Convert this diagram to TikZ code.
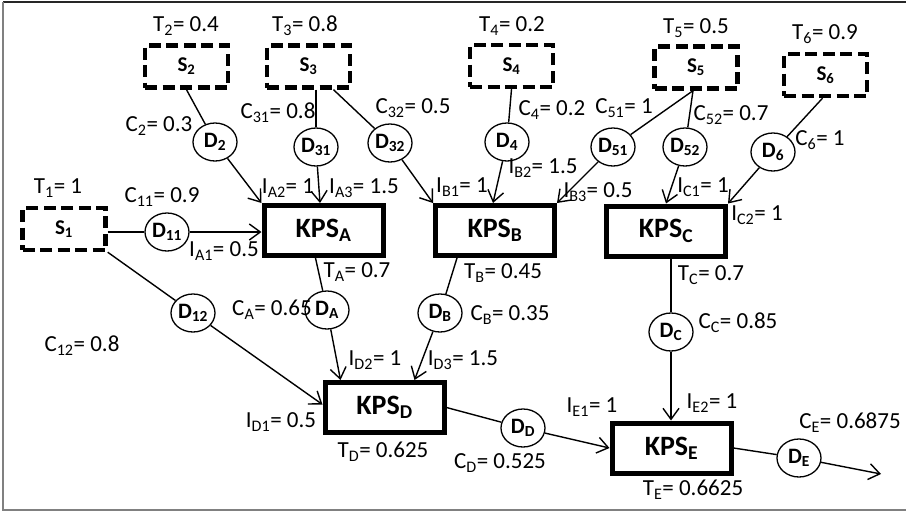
\documentclass[tikz,border=0pt]{standalone}
\usepackage{fontspec}
\setmainfont{Carlito}
\usetikzlibrary{shapes.geometric,arrows.meta}
\tikzset{
  srcbox/.style={draw, line width=4.4pt, dash pattern=on 12pt off 5.5pt, minimum width=83pt, minimum height=42pt, inner sep=0pt, font=\fontsize{21}{21}\selectfont\bfseries},
  kpsbox/.style={draw, line width=5pt, minimum width=119pt, minimum height=50pt, inner sep=0pt, font=\fontsize{28}{28}\selectfont\bfseries},
  dnode/.style={ellipse, draw, line width=1.3pt, minimum width=44pt, minimum height=38pt, inner sep=0pt, fill=white, font=\fontsize{22}{22}\selectfont\bfseries},
  lbl/.style={inner sep=0pt, font=\fontsize{23}{23}\selectfont},
  conn/.style={line width=1.4pt},
  arr/.style={conn, -{Straight Barb[length=11pt,width=16pt,line width=1.4pt]}}
}
\newcommand{\sbs}[1]{\textsubscript{#1}}
\begin{document}
\begin{tikzpicture}[x=1pt,y=-1pt]
\useasboundingbox (0,0) rectangle (906,512);
% frame
\draw[line width=1.2pt, black!85] (3,2) -- (906,2);
\draw[line width=1.6pt, black!50] (3,2) -- (3,510) -- (906,510);

% sources
\node[srcbox] (S1) at (64,229) {S\sbs{1}};
\node[srcbox] (S2) at (186.5,66.5) {S\sbs{2}};
\node[srcbox] (S3) at (308.5,66.5) {S\sbs{3}};
\node[srcbox] (S4) at (511.5,66) {S\sbs{4}};
\node[srcbox] (S5) at (696,67.5) {S\sbs{5}};
\node[srcbox] (S6) at (825.5,75) {S\sbs{6}};

% KPS boxes
\node[kpsbox] (KPSA) at (323.5,230.5) {KPS\sbs{A}};
\node[kpsbox] (KPSB) at (495,230.5) {KPS\sbs{B}};
\node[kpsbox] (KPSC) at (666,231) {KPS\sbs{C}};
\node[kpsbox] (KPSD) at (384.5,407.5) {KPS\sbs{D}};
\node[kpsbox] (KPSE) at (671.5,448) {KPS\sbs{E}};

% D nodes
\node[dnode] (D2) at (215,142) {D\sbs{2}};
\node[dnode] (D31) at (316,147) {D\sbs{31}};
\node[dnode] (D32) at (390,143) {D\sbs{32}};
\node[dnode] (D4) at (507,142) {D\sbs{4}};
\node[dnode] (D51) at (613,147) {D\sbs{51}};
\node[dnode] (D52) at (685,147) {D\sbs{52}};
\node[dnode] (D6) at (773,152) {D\sbs{6}};
\node[dnode] (D11) at (167,232) {D\sbs{11}};
\node[dnode] (D12) at (193,313) {D\sbs{12}};
\node[dnode] (DA) at (327,310) {D\sbs{A}};
\node[dnode] (DB) at (440,313) {D\sbs{B}};
\node[dnode] (DC) at (671,332) {D\sbs{C}};
\node[dnode] (DD) at (523,428) {D\sbs{D}};
\node[dnode] (DE) at (799,458) {D\sbs{E}};
\coordinate (OUT) at (881,474);

% connectors
\draw[conn] (S2.south) -- (D2);
\draw[arr] (D2) -- (KPSA.north west);
\draw[conn] (S3.south -| D31) -- (D31);
\draw[arr] (D31) -- ([xshift=-3.5pt]KPSA.north);
\draw[conn] ([xshift=25pt]S3.south) -- (D32);
\draw[arr] (D32) -- (KPSB.north west);
\draw[conn] (S4.south) -- (D4);
\draw[arr] (D4) -- ([xshift=-2pt]KPSB.north);
\draw[conn] ([xshift=-3pt]S5.south) -- (D51);
\draw[arr] (D51) -- (KPSB.north east);
\draw[conn] ([xshift=-3pt]S5.south) -- (D52);
\draw[arr] (D52) -- (KPSC.north);
\draw[conn] ([xshift=-3pt]S6.south) -- (D6);
\draw[arr] (D6) -- (KPSC.north east);
\draw[conn] (S1.east |- D11) -- (D11);
\draw[arr] (D11) -- (KPSA.west |- D11);
\draw[conn] (S1.south east) -- (D12);
\draw[arr] (D12) -- ([yshift=3pt]KPSD.west);
\draw[conn] ([xshift=-8pt]KPSA.south) -- (DA);
\draw[arr] (DA) -- ([xshift=-44pt]KPSD.north);
\draw[conn] ([xshift=-38pt]KPSB.south) -- (DB);
\draw[arr] (DB) -- ([xshift=30pt]KPSD.north);
\draw[conn] (KPSC.south -| DC) -- (DC);
\draw[arr] (DC) -- (KPSE.north -| DC);
\draw[conn] (KPSD.east) -- (DD);
\draw[arr] (DD) -- (KPSE.west);
\draw[conn] (KPSE.east) -- (DE);
\draw[arr] (DE) -- (OUT);

% labels
\node[lbl] (lT1) at (58,188) {T\sbs{1}= 1};
\node[lbl] (lT2) at (186,26) {T\sbs{2}= 0.4};
\node[lbl] (lT3) at (305,26) {T\sbs{3}= 0.8};
\node[lbl] (lT4) at (512,26) {T\sbs{4}= 0.2};
\node[lbl] (lT5) at (696,28) {T\sbs{5}= 0.5};
\node[lbl] (lT6) at (825,34) {T\sbs{6}= 0.9};
\node[lbl] (lC2) at (159,126) {C\sbs{2}= 0.3};
\node[lbl] (lC31) at (278,113) {C\sbs{31}= 0.8};
\node[lbl] (lC32) at (413,108) {C\sbs{32}= 0.5};
\node[lbl] (lC4) at (552,110) {C\sbs{4}= 0.2};
\node[lbl] (lC51) at (624,108) {C\sbs{51}= 1};
\node[lbl] (lC52) at (731,115) {C\sbs{52}= 0.7};
\node[lbl] (lC6) at (820,140) {C\sbs{6}= 1};
\node[lbl] (lC11) at (162,197) {C\sbs{11}= 0.9};
\node[lbl] (lIA1) at (224,251) {I\sbs{A1}= 0.5};
\node[lbl] (lIA2) at (288,188) {I\sbs{A2}= 1};
\node[lbl] (lIA3) at (364,188) {I\sbs{A3}= 1.5};
\node[lbl] (lIB1) at (462,187) {I\sbs{B1}= 1};
\node[lbl] (lIB2) at (543,168) {I\sbs{B2}= 1.5};
\node[lbl] (lIB3) at (598,192) {I\sbs{B3}= 0.5};
\node[lbl] (lIC1) at (703,187) {I\sbs{C1}= 1};
\node[lbl] (lIC2) at (757,215) {I\sbs{C2}= 1};
\node[lbl] (lTA) at (357,272) {T\sbs{A}= 0.7};
\node[lbl] (lTB) at (503,273) {T\sbs{B}= 0.45};
\node[lbl] (lTC) at (711,275) {T\sbs{C}= 0.7};
\node[lbl] (lCA) at (272,310) {C\sbs{A}= 0.65};
\node[lbl] (lCB) at (510,315) {C\sbs{B}= 0.35};
\node[lbl] (lCC) at (738,323) {C\sbs{C}= 0.85};
\node[lbl] (lC12) at (82,346) {C\sbs{12}= 0.8};
\node[lbl] (lID1) at (281,422) {I\sbs{D1}= 0.5};
\node[lbl] (lID2) at (375,360) {I\sbs{D2}= 1};
\node[lbl] (lID3) at (463,360) {I\sbs{D3}= 1.5};
\node[lbl] (lTD) at (383,452) {T\sbs{D}= 0.625};
\node[lbl] (lCD) at (500,463) {C\sbs{D}= 0.525};
\node[lbl] (lIE1) at (592,407) {I\sbs{E1}= 1};
\node[lbl] (lIE2) at (712,403) {I\sbs{E2}= 1};
\node[lbl] (lCE) at (850,423) {C\sbs{E}= 0.6875};
\node[lbl] (lTE) at (693,490) {T\sbs{E}= 0.6625};
\end{tikzpicture}
\end{document}
